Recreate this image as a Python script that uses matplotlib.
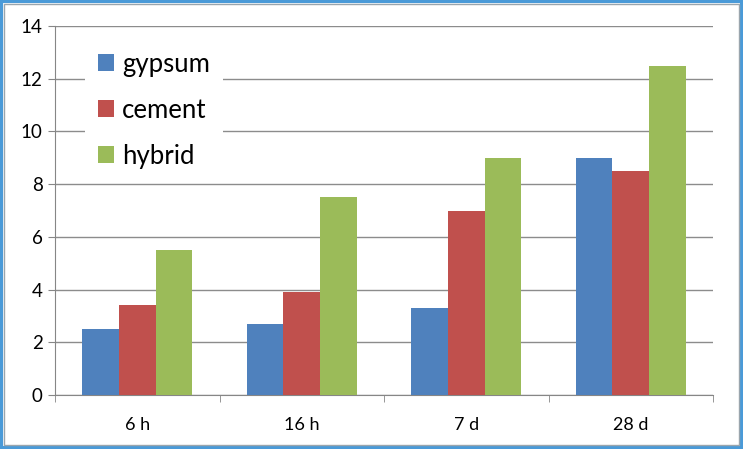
import numpy as np
import matplotlib.pyplot as plt
from matplotlib.patches import Rectangle

categorias = ['6 h', '16 h', '7 d', '28 d']
gypsum = [2.5, 2.7, 3.3, 9.0]
cement = [3.4, 3.9, 7.0, 8.5]
hybrid = [5.5, 7.5, 9.0, 12.5]
series = [('gypsum', gypsum, '#4F81BD'),
          ('cement', cement, '#C0504D'),
          ('hybrid', hybrid, '#9BBB59')]

plt.rcParams['font.family'] = ['Lato', 'DejaVu Sans']

fig = plt.figure(figsize=(7.43, 4.49), dpi=100)
ax = fig.add_axes([55 / 743, 1 - 395 / 449, 658 / 743, 369 / 449])

x = np.arange(len(categorias))
largura = 1 / 4.5
for i, (nome, valores, cor) in enumerate(series):
    ax.bar(x + (i - 1) * largura, valores, largura, color=cor, label=nome, zorder=3)

ax.set_xlim(-0.5, len(categorias) - 0.5)
ax.set_ylim(0, 14)
ax.set_yticks(range(0, 15, 2))
ax.set_xticks(x)
ax.set_xticklabels(categorias)
ax.set_xticks(np.arange(-0.5, len(categorias)), minor=True)
ax.tick_params(axis='x', which='major', length=0, pad=16, labelsize=13)
ax.tick_params(axis='x', which='minor', length=5, color='#868686')
ax.tick_params(axis='y', length=5, color='#868686', labelsize=13.5, pad=4)
ax.grid(axis='y', color='#8c8c8c', linewidth=1, zorder=0)
for lado in ['top', 'right']:
    ax.spines[lado].set_visible(False)
for lado in ['left', 'bottom']:
    ax.spines[lado].set_color('#868686')

leg = ax.legend(loc='upper left', bbox_to_anchor=(0.026, 1.0), fontsize=18.5,
                frameon=True, fancybox=False, edgecolor='white', framealpha=1,
                handlelength=0.62, handleheight=0.62, handletextpad=0.32,
                labelspacing=0.82, borderpad=0.5)
leg.get_frame().set_linewidth(0)

# moldura
fig.patches.append(Rectangle((0.0015, 0.002), 0.997, 0.996, transform=fig.transFigure,
                             fill=False, edgecolor='#4A9AD8', linewidth=3))
fig.patches.append(Rectangle((0.006, 0.009), 0.988, 0.982, transform=fig.transFigure,
                             fill=False, edgecolor='#9aa5ad', linewidth=1))

fig.savefig('out.png', dpi=100)
